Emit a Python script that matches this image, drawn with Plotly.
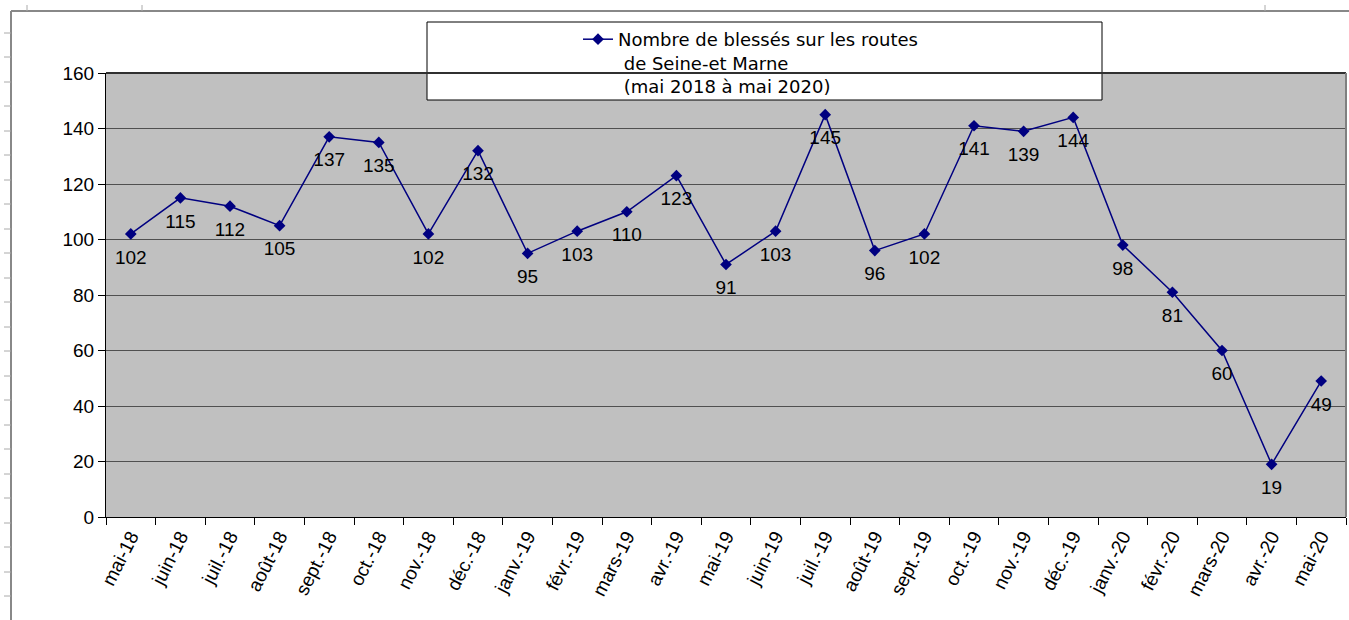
import plotly.graph_objects as go

months = ["mai-18", "juin-18", "juil.-18", "août-18", "sept.-18", "oct.-18", "nov.-18",
          "déc.-18", "janv.-19", "févr.-19", "mars-19", "avr.-19", "mai-19", "juin-19",
          "juil.-19", "août-19", "sept.-19", "oct.-19", "nov.-19", "déc.-19", "janv.-20",
          "févr.-20", "mars-20", "avr.-20", "mai-20"]
blesses = [102, 115, 112, 105, 137, 135, 102, 132, 95, 103, 110, 123, 91, 103,
           145, 96, 102, 141, 139, 144, 98, 81, 60, 19, 49]
y_ticks = [0, 20, 40, 60, 80, 100, 120, 140, 160]
series_name = ("Nombre de blessés sur les routes<br> de Seine-et Marne"
               "<br> (mai 2018 à mai 2020)")

FONT = "Liberation Sans, Arial, sans-serif"
WIDE = "DejaVu Sans, Liberation Sans, sans-serif"
W, H = 1349, 620
L, R, T, B = 106, 3, 73, 103
pw, ph = W - L - R, H - T - B


def px(x):
    return (x - L) / pw


def py(y):
    return (H - B - y) / ph


fig = go.Figure()
fig.add_trace(go.Scatter(
    x=months, y=blesses, name=series_name,
    mode="lines+markers",
    line=dict(color="#000080", width=1.5),
    marker=dict(symbol="diamond", size=9, color="#000080"),
    showlegend=True, hoverinfo="x+y",
))
# data labels (placed below each point)
fig.add_trace(go.Scatter(
    x=months, y=blesses, mode="markers+text",
    marker=dict(size=23, color="rgba(0,0,0,0)"),
    text=[str(v) for v in blesses], textposition="bottom center",
    textfont=dict(family=FONT, size=19, color="black"),
    showlegend=False, hoverinfo="skip",
))

shapes = []
# legend box
shapes.append(dict(type="rect", xref="paper", yref="paper",
                   x0=px(427), x1=px(1102), y0=py(100), y1=py(22),
                   line=dict(color="black", width=1), fillcolor="white", layer="above"))
# outer chart frame (spreadsheet)
shapes.append(dict(type="line", xref="paper", yref="paper",
                   x0=px(11), x1=px(1349), y0=py(11), y1=py(11),
                   line=dict(color="#888888", width=2)))
shapes.append(dict(type="line", xref="paper", yref="paper",
                   x0=px(11), x1=px(11), y0=py(11), y1=py(620),
                   line=dict(color="#888888", width=2)))
for yy in [33, 57, 82, 106, 131, 155, 180, 204, 229, 253, 278, 302, 327, 351, 376,
           400, 425, 449, 474, 498, 523, 547, 572, 596]:
    shapes.append(dict(type="line", xref="paper", yref="paper",
                       x0=px(4), x1=px(11), y0=py(yy), y1=py(yy),
                       line=dict(color="#aaaaaa", width=1)))
for xx in [27, 142, 1265]:
    shapes.append(dict(type="line", xref="paper", yref="paper",
                       x0=px(xx), x1=px(xx), y0=py(5), y1=py(11),
                       line=dict(color="#aaaaaa", width=1)))
# top and right plot borders
shapes.append(dict(type="line", xref="paper", yref="paper", x0=0, x1=1, y0=1, y1=1,
                   line=dict(color="#303030", width=2)))
shapes.append(dict(type="line", xref="paper", yref="paper", x0=1, x1=1, y0=0, y1=1,
                   line=dict(color="#808080", width=2)))

fig.update_layout(
    width=W, height=H,
    margin=dict(l=L, r=R, t=T, b=B),
    paper_bgcolor="white", plot_bgcolor="#c0c0c0",
    font=dict(family=FONT, size=17, color="black"),
    shapes=shapes,
    hovermode="closest",
    legend=dict(x=px(578), y=py(21), xanchor="left", yanchor="top",
                bgcolor="rgba(0,0,0,0)", borderwidth=0, valign="top",
                font=dict(family=WIDE, size=18, color="black"),
                itemwidth=30, tracegroupgap=0),
    xaxis=dict(type="category", range=[-0.5, len(months) - 0.5],
               tickson="boundaries", ticks="outside", ticklen=7, tickcolor="black",
               tickangle=-63, showgrid=False, showline=True, linecolor="black",
               linewidth=1, mirror=False, tickfont=dict(family=FONT, size=19)),
    yaxis=dict(range=[0, 160], tickvals=y_ticks, ticks="outside", ticklen=7,
               tickcolor="black", showgrid=True, gridcolor="#505050", gridwidth=1,
               showline=True, linecolor="black", linewidth=1, zeroline=False,
               tickfont=dict(family=FONT, size=19)),
)

fig.write_html("out.html", config={"displayModeBar": False},
               post_script="document.body.style.margin='0';document.body.style.overflow='hidden';")
